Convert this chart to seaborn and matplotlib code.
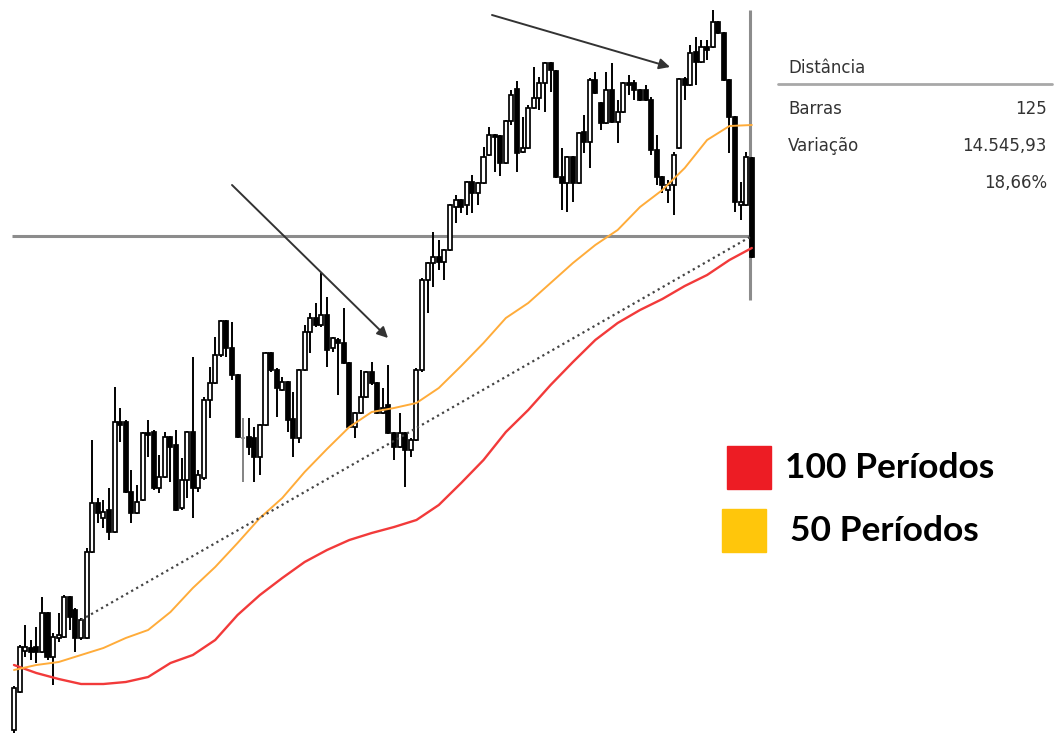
import numpy as np
import pandas as pd
import matplotlib
matplotlib.use('Agg')
import matplotlib.pyplot as plt
import seaborn as sns

# OHLC das barras (pontos)
OPEN = [73400, 74920, 76560, 76680, 76720, 76520, 78080, 76320, 77080, 77120,
        78720, 78200, 77080, 77080, 80520, 82480, 81880, 82200, 81320, 85720,
        85720, 82920, 82080, 82600, 85280, 85320, 83080, 83520, 85120, 84800,
        82280, 83400, 85320, 83080, 83480, 86600, 87280, 88400, 89760, 88680,
        87600, 85120, 85120, 85080, 84320, 85600, 88480, 87800, 87000, 87320,
        85840, 85080, 87800, 89320, 89880, 89600, 90000, 88680, 89000, 88880,
        88080, 85520, 86080, 86720, 87720, 87280, 86080, 86400, 85280, 84720,
        85280, 84600, 85000, 87800, 91400, 92080, 92320, 92120, 92600, 94320,
        94600, 94400, 95320, 94880, 95280, 96400, 97200, 97160, 96080, 97760,
        99040, 96520, 96680, 98280, 98680, 99280, 100080, 99760, 95520, 95280,
        96320, 95280, 97320, 96920, 99400, 98480, 97680, 99000, 97720, 98120,
        99280, 99280, 99000, 99000, 98600, 96600, 95520, 95000, 95200, 96680,
        99440, 99200, 100520, 100120, 100720, 100720, 101720, 101280, 99400, 97920,
        94400, 94400, 96280]
CLOSE = [75080, 76720, 76720, 76520, 76520, 78080, 76320, 77120, 77200, 78720,
         77920, 77080, 77800, 80520, 82480, 82080, 82120, 81320, 85720, 85600,
         82920, 82080, 82520, 85280, 85200, 83080, 83520, 85120, 84720, 82200,
         83400, 85320, 83080, 83600, 86600, 87280, 88400, 89760, 88680, 87600,
         85120, 85100, 84720, 84320, 85600, 88480, 87800, 87080, 87320, 85800,
         85080, 87800, 89320, 89880, 89600, 90000, 88600, 89080, 88880, 88080,
         85520, 86080, 86720, 87720, 87280, 86080, 86280, 85280, 84720, 85280,
         84600, 85000, 87800, 91400, 92080, 92320, 92120, 92600, 94400, 94600,
         94320, 95320, 94880, 95280, 96320, 97200, 97120, 96080, 97760, 98800,
         96480, 96680, 98280, 98680, 99280, 100080, 99800, 95520, 95280, 96320,
         95280, 97280, 96920, 99400, 98880, 97680, 99000, 97720, 98120, 99280,
         99200, 99000, 98600, 98600, 96600, 95520, 95200, 95200, 96400, 99440,
         99200, 100480, 100120, 100720, 100600, 101720, 101280, 99400, 97920, 94520,
         94520, 96320, 92320]
HIGH = [75160, 76800, 77600, 77000, 77520, 78720, 78120, 77280, 78080, 78800,
        78760, 78280, 77880, 80680, 85000, 82680, 82600, 83080, 87120, 86280,
        85800, 83800, 83200, 85320, 85800, 85400, 84400, 85320, 85160, 85400,
        84280, 85360, 88320, 83800, 86720, 87920, 89120, 89800, 89800, 89720,
        87640, 85880, 85880, 85520, 85640, 88520, 88520, 87880, 87520, 87360,
        86920, 87840, 89600, 90080, 90480, 91680, 90720, 89120, 89080, 90280,
        88120, 86120, 87800, 87760, 88120, 87320, 87080, 88000, 85320, 86080,
        85320, 85080, 87880, 91480, 92120, 93320, 93000, 92640, 94440, 94800,
        94640, 95360, 95600, 95320, 96720, 97520, 97240, 97200, 97800, 99000,
        99360, 97920, 98400, 99920, 99520, 100120, 100120, 99800, 96680, 96360,
        96360, 97320, 98000, 99480, 99720, 98520, 99720, 100080, 98600, 99320,
        99600, 99400, 99040, 99200, 98720, 97200, 95560, 95400, 96520, 99480,
        99520, 100800, 101120, 101000, 101000, 102200, 101760, 101320, 99440, 97960,
        95320, 96520, 96320]
LOW = [73280, 74880, 76320, 76200, 76080, 76480, 76200, 75200, 76920, 77080,
       77400, 76520, 77000, 77040, 80480, 81680, 81480, 81000, 81280, 84920,
       82880, 81680, 82040, 82560, 84320, 83000, 82880, 83480, 83320, 82160,
       82200, 82680, 81880, 82920, 83400, 85880, 87240, 88320, 88320, 87400,
       85080, 83320, 84400, 83320, 83600, 85560, 87720, 85920, 86960, 85320,
       84320, 84880, 87760, 88480, 89520, 89520, 87920, 88520, 86800, 88040,
       85480, 85080, 86040, 86680, 87200, 86040, 86040, 85240, 84200, 84680,
       83120, 84320, 84960, 87720, 90080, 91120, 91800, 91400, 92560, 93680,
       94080, 94000, 94080, 94400, 95240, 96360, 95720, 95560, 96040, 97600,
       95720, 96480, 96640, 98240, 98200, 98120, 98920, 95480, 94200, 94120,
       94520, 95240, 96480, 95880, 98840, 97400, 97640, 97680, 96880, 98080,
       98800, 98600, 98560, 98560, 96400, 95200, 94880, 94480, 94000, 96640,
       98600, 99160, 99200, 100080, 100200, 100680, 101240, 99360, 96480, 94120,
       93800, 94360, 92280]

# medias moveis lidas a cada 4 barras
MA_IDX = list(range(0, 133, 4))
MA50 = [75800, 76000, 76120, 76400, 76680, 77080, 77400, 78120, 79080, 79920,
        80880, 81880, 82680, 83720, 84640, 85520, 86120, 86280, 86480, 87080,
        87960, 88880, 89880, 90480, 91280, 92080, 92800, 93400, 94320, 95000,
        95880, 97000, 97560, 97600]
MA100 = [76000, 75680, 75440, 75240, 75240, 75320, 75520, 76080, 76400, 77000,
         78000, 78800, 79480, 80120, 80600, 81000, 81280, 81520, 81800, 82400,
         83280, 84200, 85320, 86200, 87200, 88120, 89000, 89680, 90200, 90640,
         91160, 91600, 92200, 92680]

LEVEL = 93160
DIST_START = 12
PANEL_ROWS = [("Barras", "125"), ("Variação", "14.545,93"), ("", "18,66%")]
LEGEND = [("100 Períodos", "#ed1c24"), ("50 Períodos", "#ffc60b")]

sns.set_style("white")

W, H = 1057, 733
fig = plt.figure(figsize=(W / 100, H / 100), dpi=100)
ax = fig.add_axes([0, 0, 1, 1])

df = pd.DataFrame({"o": OPEN, "c": CLOSE, "h": HIGH, "l": LOW})
df["i"] = np.arange(len(df))

# candles
ax.vlines(df["i"], df["l"], df["h"], color="black", lw=1.4, zorder=2)
up = df["c"] >= df["o"]
body = (df["c"] - df["o"]).abs()
doji = body < 40
for i, r in df.iterrows():
    lo = min(r["o"], r["c"])
    hgt = max(body[i], 60)
    if doji[i]:
        ax.vlines(r["i"], r["l"], r["h"], color="#8a8a8a", lw=1.4, zorder=2.5)
        ax.hlines(lo, r["i"] - 0.35, r["i"] + 0.35, color="#8a8a8a", lw=1.2, zorder=2.5)
        continue
    fc = "white" if up[i] else "black"
    ax.bar(r["i"], hgt, bottom=lo, width=0.72, color=fc, edgecolor="black",
           linewidth=1.25, zorder=2.6)

ma = pd.DataFrame({"i": MA_IDX, "ma50": MA50, "ma100": MA100})
sns.lineplot(data=ma, x="i", y="ma100", color="#f23a3a", lw=1.7, ax=ax, zorder=3)
sns.lineplot(data=ma, x="i", y="ma50", color="#ffac3a", lw=1.4, ax=ax, zorder=3)

last = len(df) - 1
# linha de nivel e linha vertical da ferramenta de distancia
ax.hlines(LEVEL, -0.4, last, color="#8c8c8c", lw=2.2, zorder=1)
ax.vlines(last - 0.4, 90600, 102200, color="#8c8c8c", lw=2.2, zorder=1)
ax.plot([DIST_START, last], [CLOSE[DIST_START], LEVEL], color="#444444",
        lw=1.6, ls=(0, (1.0, 1.6)), zorder=3)

ax.set_xlim(-2.5, 186.6)
ax.set_ylim(73280, 102600)
ax.set_axis_off()

# setas
def fxy(px, py):
    return (px / W, 1 - py / H)

arrow = dict(arrowstyle="-|>", color="#333333", lw=1.4, mutation_scale=16,
             shrinkA=0, shrinkB=0)
ax.annotate("", xy=fxy(388, 338), xytext=fxy(232, 185),
            xycoords="figure fraction", textcoords="figure fraction", arrowprops=arrow)
ax.annotate("", xy=fxy(670, 67), xytext=fxy(492, 15),
            xycoords="figure fraction", textcoords="figure fraction", arrowprops=arrow)

# painel Distancia
fig.text(*fxy(788, 68), "Distância", fontsize=12, color="#333333", va="center",
         family="DejaVu Sans")
fig.add_artist(plt.Line2D([778 / W, 1052 / W], [1 - 84 / H, 1 - 84 / H],
                          color="#a8a8a8", lw=2))
for k, (lab, val) in enumerate(PANEL_ROWS):
    y = 109 + 37 * k
    if lab:
        fig.text(*fxy(788, y), lab, fontsize=12, color="#333333", va="center",
                 family="DejaVu Sans")
    fig.text(*fxy(1047, y), val, fontsize=12, color="#333333", va="center",
             ha="right", family="DejaVu Sans")

# legenda
for k, (lab, col) in enumerate(LEGEND):
    y0 = 446 + 63 * k
    x0 = 727 - 5 * k
    fig.add_artist(plt.Rectangle((x0 / W, 1 - (y0 + 43) / H), 44 / W, 43 / H,
                                 color=col, transform=fig.transFigure))
    fig.text(*fxy(785 + 5 * k, y0 + 22), lab, fontsize=25.5, fontweight="bold",
             family="Lato", va="center", color="black")

fig.savefig("out.png", dpi=100, facecolor="white")
